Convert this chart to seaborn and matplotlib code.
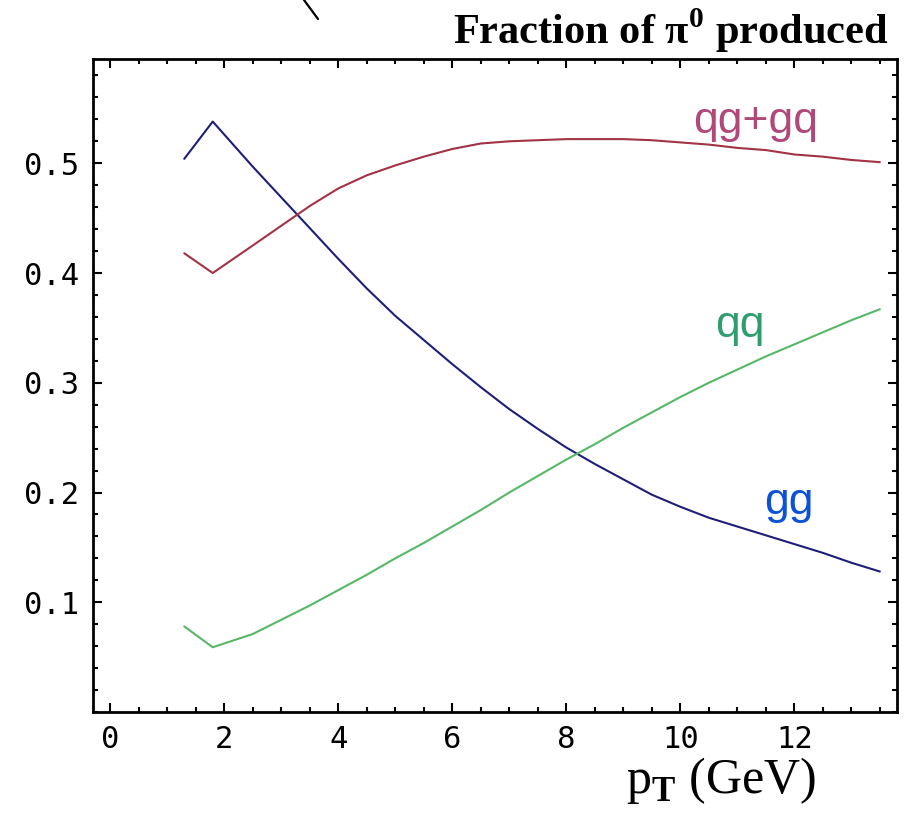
import matplotlib
matplotlib.use("Agg")
import matplotlib.pyplot as plt
from matplotlib.ticker import MultipleLocator, FixedLocator
from matplotlib.lines import Line2D
import numpy as np
import pandas as pd
import seaborn as sns

# ---- data ----
pt = [1.3, 1.8, 2.5, 3.0, 3.5, 4.0, 4.5, 5.0, 5.5, 6.0, 6.5, 7.0, 7.5, 8.0,
      8.5, 9.0, 9.5, 10.0, 10.5, 11.0, 11.5, 12.0, 12.5, 13.0, 13.5]
gg = [0.504, 0.538, 0.497, 0.469, 0.441, 0.413, 0.386, 0.361, 0.339, 0.317,
      0.296, 0.276, 0.258, 0.241, 0.226, 0.212, 0.198, 0.187, 0.177, 0.169,
      0.161, 0.153, 0.145, 0.136, 0.128]
qg_gq = [0.418, 0.400, 0.425, 0.443, 0.461, 0.477, 0.489, 0.498, 0.506, 0.513,
         0.518, 0.520, 0.521, 0.522, 0.522, 0.522, 0.521, 0.519, 0.517, 0.514,
         0.512, 0.508, 0.506, 0.503, 0.501]
qq = [0.078, 0.059, 0.071, 0.084, 0.097, 0.111, 0.125, 0.140, 0.154, 0.169,
      0.184, 0.200, 0.215, 0.230, 0.244, 0.259, 0.273, 0.287, 0.300, 0.312,
      0.324, 0.335, 0.346, 0.357, 0.367]

series_names = ["gg", "qg+gq", "qq"]
line_colors = {"gg": "#1e1e7a", "qg+gq": "#a33246", "qq": "#56b866"}
label_colors = {"gg": "#0b52d6", "qg+gq": "#b0487a", "qq": "#2f9e6e"}
label_pos = {"qg+gq": (11.32, 0.538), "qq": (11.05, 0.352), "gg": (11.9, 0.191)}

x_ticks = [0, 2, 4, 6, 8, 10, 12]
y_ticks = [0.1, 0.2, 0.3, 0.4, 0.5]
y_tick_labels = ["0.1", "0.2", "0.3", "0.4", "0.5"]

df = pd.DataFrame({"pT": pt, "gg": gg, "qg+gq": qg_gq, "qq": qq})
long = df.melt(id_vars="pT", var_name="process", value_name="frac")

# ---- figure ----
sns.set_theme(style="white")
plt.rcParams["font.family"] = ["Liberation Serif", "DejaVu Sans"]
plt.rcParams["mathtext.fontset"] = "custom"
plt.rcParams["mathtext.rm"] = "Liberation Serif"
plt.rcParams["mathtext.bf"] = "Liberation Serif:bold"

fig = plt.figure(figsize=(9.09, 8.17), dpi=100)
ax = fig.add_axes([93 / 909, 1 - 712 / 817, (897 - 93) / 909, (712 - 59) / 817])

sns.lineplot(data=long, x="pT", y="frac", hue="process", palette=line_colors,
             hue_order=series_names, estimator=None, sort=False, legend=False,
             linewidth=1.5, ax=ax)

ax.set_xlim(-0.3, 13.8)
ax.set_ylim(0.0, 0.595)
ax.set_xlabel("")
ax.set_ylabel("")

ax.xaxis.set_major_locator(FixedLocator(x_ticks))
ax.xaxis.set_minor_locator(MultipleLocator(0.5))
ax.yaxis.set_major_locator(FixedLocator(y_ticks))
ax.yaxis.set_minor_locator(MultipleLocator(0.02))
ax.set_xticklabels([str(t) for t in x_ticks])
ax.set_yticklabels(y_tick_labels)

for sp in ax.spines.values():
    sp.set_visible(True)
    sp.set_color("black")
    sp.set_linewidth(2.0)

ax.tick_params(which="both", direction="in", top=True, right=True,
               bottom=True, left=True, color="black", width=1.5)
ax.tick_params(which="major", length=6.5)
ax.tick_params(which="minor", length=3.6)
ax.tick_params(axis="x", which="major", pad=9)
ax.tick_params(axis="y", which="major", pad=10)
for lab in ax.get_xticklabels() + ax.get_yticklabels():
    lab.set_fontfamily("DejaVu Sans Mono")
    lab.set_fontsize(22)
    lab.set_color("black")

for name in series_names:
    x, y = label_pos[name]
    ax.text(x, y, name, color=label_colors[name], fontsize=32,
            family=["Liberation Sans", "DejaVu Sans"], ha="center", va="center")

fig.text(888 / 909, 1 - 44 / 817, r"Fraction of π$^{\mathbf{0}}$ produced",
         ha="right", va="baseline", fontsize=30.5, fontweight="bold",
         family=["Liberation Serif", "DejaVu Serif"], color="black")

fig.text(816 / 909, 1 - 793 / 817, r"p$_{\mathbf{T}}$ (GeV)",
         ha="right", va="baseline", fontsize=36,
         family=["Liberation Serif", "DejaVu Serif"], color="black")

fig.add_artist(Line2D([304 / 909, 318 / 909], [1.0, 1 - 19 / 817],
                      transform=fig.transFigure, color="black", linewidth=1.6))

fig.savefig("out.png", dpi=100, facecolor="white")
